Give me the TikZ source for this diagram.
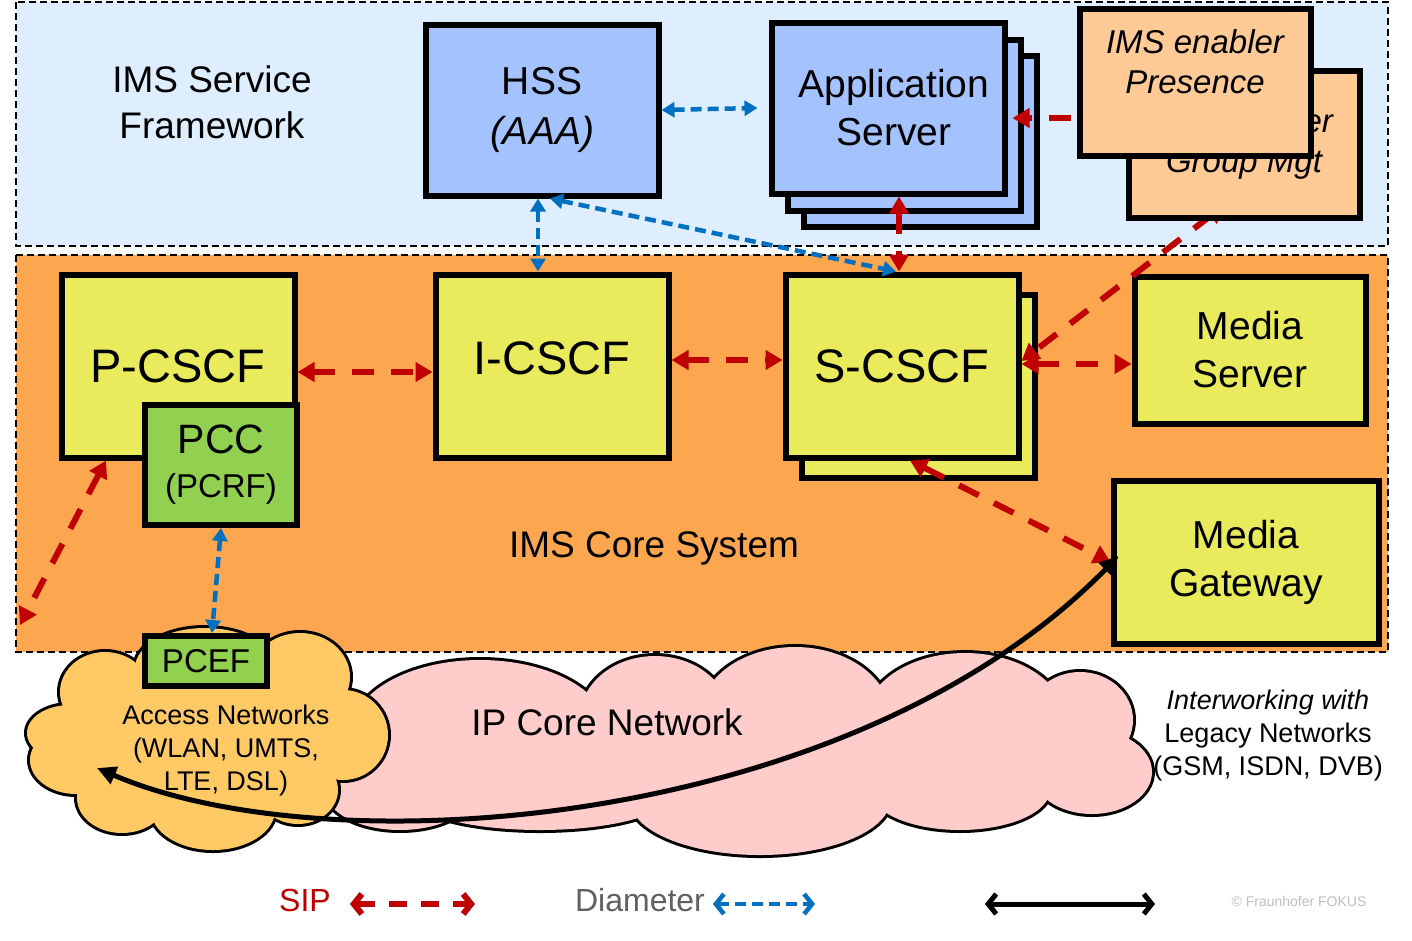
\documentclass[tikz,border=0pt]{standalone}
\usepackage{fontspec}
\setmainfont{Liberation Sans}
\usetikzlibrary{arrows.meta}

\definecolor{svcblue}{HTML}{DEEEFF}
\definecolor{coreorange}{HTML}{FCA64F}
\definecolor{hssblue}{HTML}{A4C2FE}
\definecolor{cscfyellow}{HTML}{E9EB5C}
\definecolor{pccgreen}{HTML}{92D050}
\definecolor{enblpeach}{HTML}{FFCA96}
\definecolor{accessorange}{HTML}{FFC966}
\definecolor{ippink}{HTML}{FFCCCC}
\definecolor{sipred}{HTML}{C00000}
\definecolor{diablue}{HTML}{0070C0}
\definecolor{diagrey}{HTML}{606060}
\definecolor{fokusgrey}{HTML}{BFBFBF}

\newcommand{\fsBox}{\fontsize{39}{48}\selectfont}
\newcommand{\fsCscf}{\fontsize{47}{56}\selectfont}
\newcommand{\fsRegion}{\fontsize{37}{46}\selectfont}
\newcommand{\fsEnbl}{\fontsize{33}{40}\selectfont\itshape}
\newcommand{\fsNet}{\fontsize{27}{33}\selectfont}
\newcommand{\fsLegend}{\fontsize{32}{38}\selectfont}

\pgfdeclarelayer{front}
\pgfsetlayers{main,front}

\tikzset{
    %Define standard arrow tip
    >={Triangle[length=17pt,width=19pt]},
    %Define style for the dashed frames
    region/.style={
           draw=black,
           line width=1.5pt,
           dash pattern=on 7pt off 4pt},
    %Define style for boxes
    box/.style={
           rectangle,
           draw=black, line width=6pt,
           inner sep=0pt,
           align=center,
           font=\fsBox},
    hss/.style={box, fill=hssblue, minimum width=233pt, minimum height=171pt},
    cscf/.style={box, fill=cscfyellow, minimum width=233pt, minimum height=183pt, font=\fsCscf},
    media/.style={box, fill=cscfyellow},
    enbl/.style={box, fill=enblpeach, minimum width=231pt, minimum height=147pt, font=\fsEnbl},
    pcc/.style={box, fill=pccgreen},
    % cloud puffs: outline first, then fill
    puff line/.style={draw=black, line width=6pt},
    netlabel/.style={align=center, font=\fsNet},
    % Define arrow styles
    sip/.style={
           <->,
           draw=sipred,
           line width=6pt,
           dash pattern=on 22pt off 17pt},
    dia/.style={
           {Triangle[length=13pt,width=15pt]}-{Triangle[length=13pt,width=15pt]},
           draw=diablue,
           line width=4.5pt,
           dash pattern=on 11pt off 6pt},
    media path/.style={
           {Triangle[length=19pt,width=18pt]}-{Triangle[length=19pt,width=18pt]},
           draw=black,
           line width=5pt},
    legend arrow/.style={
           {Straight Barb[length=8pt,width=20pt]}-{Straight Barb[length=8pt,width=20pt]}},
every node/.style={align=center}
}

\begin{document}
\begin{tikzpicture}[x=1pt,y=-1pt]

\fill[white] (0,0) rectangle (1412,940);
\useasboundingbox (0,0) rectangle (1412,940);

%frames
\draw[region, fill=svcblue] (16,2) rectangle (1388,246);
\draw[region, fill=coreorange] (16,255) rectangle (1388,652);
\node[font=\fsRegion] (svclabel) at (212,102) {IMS Service\\Framework};
\node[font=\fsRegion] (corelabel) at (654,548) {IMS Core System};

%IP core cloud
\foreach \cx/\cy/\rx/\ry in {480/732/128/72, 655/718/75/62, 795/716/95/69, 965/720/100/67,
    1080/720/53/48, 1092/772/60/42, 960/790/90/40, 760/800/130/55, 540/795/130/35,
    400/790/75/40, 740/755/330/60}
  \draw[puff line] (\cx,\cy) ellipse [x radius=\rx, y radius=\ry];
\foreach \cx/\cy/\rx/\ry in {480/732/128/72, 655/718/75/62, 795/716/95/69, 965/720/100/67,
    1080/720/53/48, 1092/772/60/42, 960/790/90/40, 760/800/130/55, 540/795/130/35,
    400/790/75/40, 740/755/330/60}
  \fill[ippink] (\cx,\cy) ellipse [x radius=\rx, y radius=\ry];

%access cloud
\foreach \cx/\cy/\rx/\ry in {105/692/45/40, 205/668/70/40, 300/677/50/44, 343/735/45/45,
    298/790/40/34, 213/810/62/40, 122/798/45/35, 76/760/46/34, 70/733/43/28, 206/740/135/82}
  \draw[puff line] (\cx,\cy) ellipse [x radius=\rx, y radius=\ry];
\foreach \cx/\cy/\rx/\ry in {105/692/45/40, 205/668/70/40, 300/677/50/44, 343/735/45/45,
    298/790/40/34, 213/810/62/40, 122/798/45/35, 76/760/46/34, 70/733/43/28, 206/740/135/82}
  \fill[accessorange] (\cx,\cy) ellipse [x radius=\rx, y radius=\ry];

\node[netlabel, font=\fontsize{37}{46}\selectfont] (iplabel) at (607,722) {IP Core Network};
\node[netlabel] (accesslabel) at (226,750) {Access Networks\\(WLAN, UMTS,\\LTE, DSL)};
\node[netlabel] (legacy) at (1268,735) {\textit{Interworking with}\\Legacy Networks\\(GSM, ISDN, DVB)};

%service framework
\node[hss] (hss) at (542,110) {HSS\\[2pt]\textit{(AAA)}};
\node[hss] (asC) at (920,141) {};
\node[hss] (asB) at (904,125) {};
\node[hss] (asA) at (888,108) {\hspace*{12pt}Application\\\hspace*{12pt}Server};

\begin{pgfonlayer}{front}
\node[enbl] (enblB) at (1244,144) {IMS enabler\\Group Mgt};
\node[enbl] (enblA) at (1195,82) {IMS enabler\\Presence\\\mbox{}};
\end{pgfonlayer}

%core system
\node[cscf] (scscfB) at (918,386) {};
\node[cscf] (scscfA) at (902,366) {S-CSCF};
\node[cscf] (pcscf) at (178,366) {P-CSCF};
\node[pcc, minimum width=152pt, minimum height=120pt, font=\fontsize{41}{40}\selectfont] (pcc) at (221,465) {PCC\\[4pt]{\fontsize{33}{40}\selectfont(PCRF)}};
\node[cscf] (icscf) at (552,366) {I-CSCF\\[-40pt]\mbox{}};
\node[media, minimum width=231pt, minimum height=147pt] (mserver) at (1250,350) {Media\\Server};
\node[media, minimum width=265pt, minimum height=163pt] (mgw) at (1246,562) {Media\\Gateway};
\node[pcc, minimum width=122pt, minimum height=50pt, font=\fontsize{33}{40}\selectfont] (pcef) at (206,661) {PCEF};

\coordinate (ue) at (20,625);
\coordinate (ueend) at (97,768);

%Diameter
\draw[dia] (hss.east) -- ([xshift=-11pt]asA.west);
\draw[dia] ([xshift=-4pt]hss.south) -- ([xshift=-4pt]hss.south |- icscf.north);
\draw[dia] ([xshift=8pt]hss.south) -- ([xshift=-6pt]scscfA.north);
\draw[dia] (pcc.south) -- ([xshift=6pt]pcef.north);

%SIP
\draw[sip] ([yshift=26pt]enblB.west) -- ([yshift=26pt,xshift=5pt]enblB.west -| asA.east);
\draw[sip] ([xshift=-20pt,yshift=15pt]enblB.south) -- ([yshift=5pt]scscfA.east);
\draw[sip] ([xshift=11pt]asA.south) -- ([xshift=11pt]asA.south |- scscfA.north);
\draw[sip] ([yshift=-6pt]pcscf.east) -- ([yshift=-6pt]icscf.west);
\draw[sip] ([yshift=6pt]icscf.east) -- ([yshift=6pt]scscfA.west);
\draw[sip] ([yshift=2pt]scscfA.east) -- ([yshift=2pt]scscfA.east -| mserver.west);
\draw[sip] ([xshift=8pt]scscfA.south) -- (mgw.west);
\draw[sip] ([xshift=-72pt]pcscf.south) -- (ue);

%media path
\draw[media path] (ueend) .. controls (330,868) and (850,830) .. ([xshift=8pt,yshift=6pt]mgw.west);

%legend
\node[font=\fsLegend, text=sipred] (siplbl) at (305,900) {SIP};
\node[font=\fsLegend, text=diagrey] (dialbl) at (640,900) {Diameter};
\node[font=\fontsize{14}{16}\selectfont, text=fokusgrey] (fokus) at (1299,901) {\textcopyright{} Fraunhofer FOKUS};
\coordinate (sipA) at (350,904);
\coordinate (sipB) at (475,904);
\coordinate (diaA) at (713,904);
\coordinate (diaB) at (815,904);
\coordinate (blkA) at (985,904);
\coordinate (blkB) at (1155,904);
\draw[sip, legend arrow, dash pattern=on 18pt off 14pt] (sipA) -- (sipB);
\draw[dia, legend arrow] (diaA) -- (diaB);
\draw[media path, legend arrow] (blkA) -- (blkB);

\end{tikzpicture}
\end{document}
